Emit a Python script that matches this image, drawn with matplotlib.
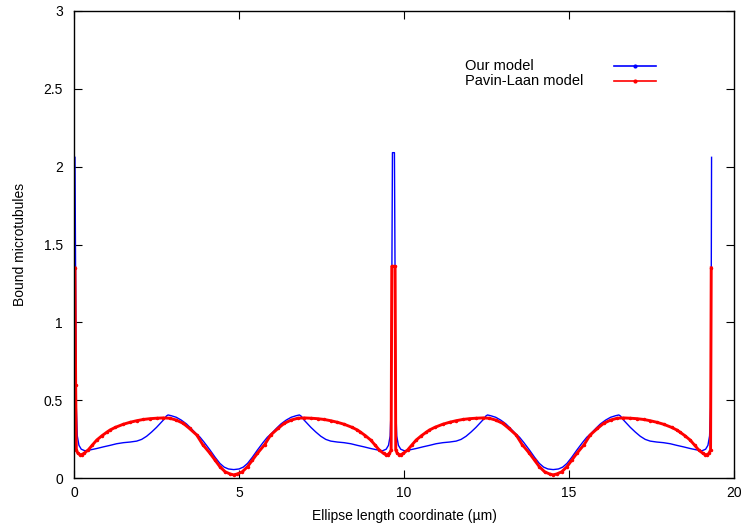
import matplotlib
matplotlib.use("Agg")
import matplotlib.pyplot as plt
from matplotlib.ticker import FormatStrFormatter

plt.rcParams['font.family'] = ['Liberation Sans', 'DejaVu Sans']

# Our model (blue)
our_x = [0.03, 0.05, 0.07, 0.10, 0.15, 0.22, 0.33, 0.48, 0.70, 0.89, 1.10, 1.29, 1.50, 1.70, 1.90,
         2.05, 2.20, 2.35, 2.50, 2.62, 2.72, 2.80, 2.85, 2.95, 3.10, 3.25, 3.41, 3.55, 3.70, 3.82,
         3.95, 4.12, 4.28, 4.42, 4.55, 4.68, 4.84, 5.00, 5.13, 5.26, 5.40, 5.56, 5.73, 5.86, 5.98,
         6.13, 6.27, 6.43, 6.58, 6.73, 6.83, 6.88, 6.96, 7.06, 7.18, 7.33, 7.48, 7.63, 7.78, 7.98,
         8.18, 8.39, 8.58, 8.79, 8.98, 9.20, 9.35, 9.46, 9.53, 9.58, 9.61, 9.63, 9.65, 9.71,
         9.73, 9.75, 9.78, 9.83, 9.90, 10.01, 10.16, 10.38, 10.57, 10.78, 10.97, 11.18, 11.38, 11.58,
         11.73, 11.88, 12.03, 12.18, 12.30, 12.40, 12.48, 12.53, 12.63, 12.78, 12.93, 13.09, 13.23,
         13.38, 13.50, 13.63, 13.80, 13.96, 14.10, 14.23, 14.36, 14.52, 14.68, 14.81, 14.94, 15.08,
         15.24, 15.41, 15.54, 15.66, 15.81, 15.95, 16.11, 16.26, 16.41, 16.51, 16.56, 16.64, 16.74,
         16.86, 17.01, 17.16, 17.31, 17.46, 17.66, 17.86, 18.07, 18.26, 18.47, 18.66, 18.88, 19.03,
         19.14, 19.21, 19.26, 19.29, 19.31, 19.32]
our_y = [2.06, 1.20, 0.45, 0.27, 0.21, 0.185, 0.175, 0.18, 0.19, 0.20, 0.21, 0.22, 0.227, 0.231, 0.237,
         0.248, 0.268, 0.295, 0.325, 0.352, 0.375, 0.398, 0.405, 0.400, 0.390, 0.372, 0.347, 0.318, 0.285, 0.262,
         0.228, 0.180, 0.132, 0.094, 0.070, 0.058, 0.054, 0.058, 0.070, 0.094, 0.132, 0.180, 0.228, 0.262, 0.285,
         0.318, 0.347, 0.372, 0.390, 0.400, 0.405, 0.398, 0.375, 0.352, 0.325, 0.295, 0.268, 0.248, 0.237, 0.231,
         0.227, 0.22, 0.21, 0.20, 0.19, 0.18, 0.175, 0.185, 0.21, 0.27, 0.45, 1.20, 2.09, 2.09,
         1.20, 0.45, 0.27, 0.21, 0.185, 0.175, 0.18, 0.19, 0.20, 0.21, 0.22, 0.227, 0.231, 0.237,
         0.248, 0.268, 0.295, 0.325, 0.352, 0.375, 0.398, 0.405, 0.400, 0.390, 0.372, 0.347, 0.318,
         0.285, 0.262, 0.228, 0.180, 0.132, 0.094, 0.070, 0.058, 0.054, 0.058, 0.070, 0.094, 0.132,
         0.180, 0.228, 0.262, 0.285, 0.318, 0.347, 0.372, 0.390, 0.400, 0.405, 0.398, 0.375, 0.352,
         0.325, 0.295, 0.268, 0.248, 0.237, 0.231, 0.227, 0.22, 0.21, 0.20, 0.19, 0.18, 0.175,
         0.185, 0.21, 0.27, 0.45, 1.20, 2.06]

# Pavin-Laan model (red)
pl_x = [0.03, 0.05, 0.07, 0.12, 0.18, 0.23, 0.30, 0.43, 0.55, 0.69, 0.85, 1.00, 1.09, 1.25, 1.49,
        1.70, 1.90, 2.10, 2.30, 2.50, 2.71, 2.90, 3.10, 3.31, 3.50, 3.72, 3.90, 4.12, 4.28, 4.42,
        4.58, 4.73, 4.84, 4.95, 5.10, 5.26, 5.40, 5.56, 5.78, 5.96, 6.18, 6.37, 6.58, 6.78, 6.97,
        7.18, 7.38, 7.58, 7.78, 7.98, 8.19, 8.43, 8.59, 8.68, 8.83, 8.99, 9.13, 9.25, 9.38, 9.45,
        9.50, 9.56, 9.61, 9.63, 9.73,
        9.75, 9.80, 9.86, 9.91, 9.98, 10.11, 10.23, 10.37, 10.53, 10.68, 10.77, 10.93, 11.17, 11.38,
        11.58, 11.78, 11.98, 12.18, 12.39, 12.58, 12.78, 12.99, 13.18, 13.40, 13.58, 13.80, 13.96,
        14.10, 14.26, 14.41, 14.52, 14.63, 14.78, 14.94, 15.08, 15.24, 15.46, 15.64, 15.86, 16.05,
        16.26, 16.46, 16.65, 16.86, 17.06, 17.26, 17.46, 17.66, 17.87, 18.11, 18.27, 18.36, 18.51,
        18.67, 18.81, 18.93, 19.06, 19.13, 19.18, 19.24, 19.29, 19.31]
pl_y = [1.35, 0.60, 0.18, 0.158, 0.150, 0.150, 0.158, 0.18, 0.21, 0.244, 0.272, 0.295, 0.308, 0.325, 0.345,
        0.358, 0.368, 0.376, 0.381, 0.384, 0.386, 0.384, 0.372, 0.351, 0.318, 0.276, 0.215, 0.159, 0.113, 0.073,
        0.040, 0.026, 0.020, 0.026, 0.040, 0.073, 0.113, 0.159, 0.215, 0.276, 0.318, 0.351, 0.372, 0.384, 0.386,
        0.384, 0.381, 0.376, 0.368, 0.358, 0.345, 0.325, 0.308, 0.295, 0.272, 0.244, 0.21, 0.18, 0.158, 0.150,
        0.150, 0.158, 0.18, 1.36, 1.36,
        0.18, 0.158, 0.150, 0.150, 0.158, 0.18, 0.21, 0.244, 0.272, 0.295, 0.308, 0.325, 0.345, 0.358,
        0.368, 0.376, 0.381, 0.384, 0.386, 0.384, 0.372, 0.351, 0.318, 0.276, 0.215, 0.159, 0.113,
        0.073, 0.040, 0.026, 0.020, 0.026, 0.040, 0.073, 0.113, 0.159, 0.215, 0.276, 0.318, 0.351,
        0.372, 0.384, 0.386, 0.384, 0.381, 0.376, 0.368, 0.358, 0.345, 0.325, 0.308, 0.295, 0.272,
        0.244, 0.21, 0.18, 0.158, 0.150, 0.150, 0.158, 0.18, 1.35]

x_ticks = [0, 5, 10, 15, 20]
y_ticks = [0, 0.5, 1, 1.5, 2, 2.5, 3]
labels = ['Our model', 'Pavin-Laan model']
colors = ['#0000ff', '#ff0000']

fig = plt.figure(figsize=(7.41, 5.25), dpi=100)
ax = fig.add_axes([74 / 741, 47 / 525, 660 / 741, 467 / 525])

ax.plot(our_x, our_y, color=colors[0], lw=1.0)
ax.plot(pl_x, pl_y, color=colors[1], lw=2.1, marker='.', ms=3)

ax.set_xlim(0, 20)
ax.set_ylim(0, 3)
ax.set_xticks(x_ticks)
ax.set_yticks(y_ticks)
ax.yaxis.set_major_formatter(FormatStrFormatter('%g'))
ax.tick_params(direction='in', length=6, width=0.8, top=True, right=True, labelsize=10)
ax.tick_params(axis='x', pad=6)
ax.tick_params(axis='y', pad=8)
for s in ax.spines.values():
    s.set_linewidth(1.0)

ax.set_xlabel('Ellipse length coordinate (µm)', fontsize=10, labelpad=6)
ax.set_ylabel('Bound microtubules', fontsize=10, labelpad=12)

# gnuplot-style key: left-aligned text, sample line to the right
for i, (lab, c) in enumerate(zip(labels, colors)):
    yk = 0.883 - i * 0.033
    ax.text(0.592, yk, lab, transform=ax.transAxes, fontsize=10.5, ha='left', va='center')
    ax.plot([0.818, 0.882], [yk, yk], transform=ax.transAxes, color=c, lw=1.2, clip_on=False)
    ax.plot([0.85], [yk], transform=ax.transAxes, color=c, marker='.', ms=4, clip_on=False)

fig.savefig('out.png', dpi=100)
